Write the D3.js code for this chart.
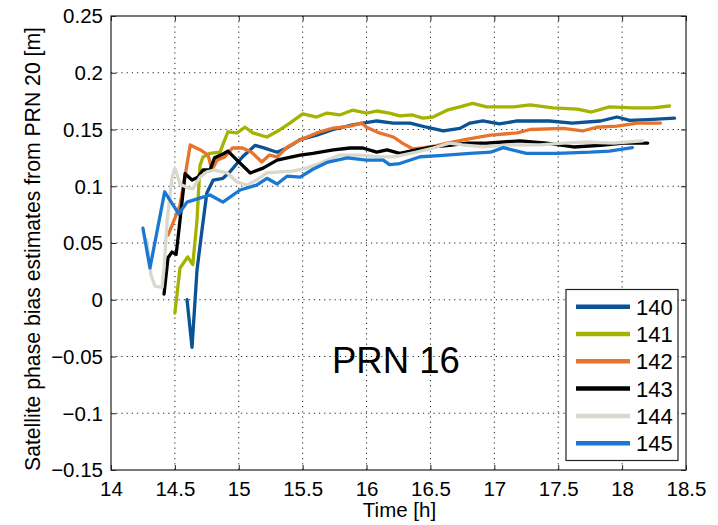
<!DOCTYPE html>
<html><head><meta charset="utf-8">
<script src="https://cdn.jsdelivr.net/npm/d3@7"></script>
<style>
html,body{margin:0;padding:0;background:#fff;}
svg text{font-family:"Liberation Sans",Arial,sans-serif;fill:#000;}
</style></head>
<body><svg id="chart" width="718" height="525"></svg>
<script>
const seriesNames = ["140","141","142","143","144","145"];
const seriesColors = ["#0b5394","#a4b300","#e8732b","#000000","#d8d8cc","#1a78d2"];
const xTicks = [14,14.5,15,15.5,16,16.5,17,17.5,18,18.5];
const yTicks = [-0.15,-0.1,-0.05,0,0.05,0.1,0.15,0.2,0.25];
const xTickLabels = ["14","14.5","15","15.5","16","16.5","17","17.5","18","18.5"];
const yTickLabels = ["\u22120.15","\u22120.1","\u22120.05","0","0.05","0.1","0.15","0.2","0.25"];

const t140 = [14.595,14.634,14.673,14.712,14.75,14.80,14.876,14.93,15.03,15.127,15.19,15.30,15.38,15.48,15.61,15.74,15.89,16.08,16.21,16.34,16.47,16.60,16.73,16.81,16.91,17.04,17.18,17.43,17.61,17.83,17.96,18.06,18.24,18.41];
const v140 = [0.0,-0.042,0.026,0.0615,0.094,0.1055,0.107,0.1126,0.126,0.136,0.134,0.130,0.134,0.141,0.145,0.150,0.154,0.1575,0.1557,0.1557,0.152,0.1487,0.151,0.1557,0.1575,0.155,0.1575,0.1575,0.1557,0.1575,0.161,0.158,0.159,0.160];

const t141 = [14.50,14.54,14.60,14.64,14.673,14.696,14.72,14.775,14.853,14.915,14.986,15.05,15.11,15.22,15.32,15.40,15.50,15.61,15.69,15.79,15.89,16.00,16.08,16.18,16.26,16.36,16.44,16.52,16.63,16.73,16.83,16.94,17.15,17.28,17.46,17.65,17.76,17.90,18.08,18.24,18.37];
const v141 = [-0.0117,0.028,0.0377,0.031,0.070,0.118,0.1258,0.129,0.130,0.148,0.147,0.152,0.147,0.1434,0.1496,0.1557,0.1637,0.161,0.1645,0.1628,0.167,0.1645,0.1663,0.1645,0.162,0.1628,0.160,0.161,0.167,0.170,0.173,0.170,0.170,0.1716,0.169,0.168,0.1654,0.170,0.169,0.169,0.1707];

const t142 = [14.446,14.485,14.54,14.587,14.62,14.70,14.76,14.79,14.83,14.89,14.95,15.03,15.10,15.18,15.24,15.30,15.38,15.48,15.61,15.74,15.87,15.96,16.00,16.10,16.21,16.28,16.36,16.44,16.54,16.63,16.79,16.97,17.18,17.28,17.54,17.69,17.80,17.96,18.12,18.30];
const v142 = [0.057,0.0676,0.0835,0.114,0.1364,0.132,0.1275,0.1143,0.123,0.1258,0.1337,0.1337,0.130,0.1214,0.1275,0.1258,0.1346,0.1407,0.147,0.1513,0.153,0.1557,0.152,0.147,0.1434,0.138,0.133,0.1337,0.1355,0.138,0.1416,0.145,0.147,0.150,0.151,0.1487,0.152,0.153,0.1557,0.1557];

const t143 = [14.415,14.446,14.477,14.51,14.54,14.58,14.634,14.68,14.72,14.775,14.81,14.876,14.915,14.986,15.09,15.19,15.30,15.38,15.48,15.58,15.74,15.87,15.97,16.08,16.16,16.26,16.39,16.52,16.65,16.79,16.94,17.20,17.41,17.62,17.83,18.01,18.20];
const v143 = [0.005,0.037,0.042,0.040,0.070,0.111,0.1055,0.108,0.1143,0.1143,0.125,0.1284,0.131,0.123,0.1117,0.116,0.123,0.125,0.1275,0.129,0.132,0.1337,0.1337,0.130,0.132,0.129,0.132,0.1346,0.136,0.138,0.138,0.140,0.138,0.1346,0.136,0.138,0.138];

const t144 = [14.28,14.313,14.344,14.40,14.415,14.44,14.477,14.50,14.54,14.587,14.64,14.696,14.75,14.81,14.91,14.986,15.06,15.14,15.22,15.32,15.42,15.53,15.64,15.79,15.95,16.10,16.21,16.28,16.39,16.52,16.65,16.75,16.91,17.12,17.36,17.54,17.72,17.93,18.16];
const v144 = [0.0527,0.0218,0.012,0.011,0.028,0.070,0.1073,0.116,0.102,0.0993,0.0976,0.108,0.1126,0.1143,0.1117,0.1038,0.101,0.1055,0.1117,0.1126,0.1134,0.116,0.1205,0.1275,0.1275,0.1258,0.1258,0.1275,0.130,0.1337,0.138,0.1364,0.1346,0.1364,0.1364,0.138,0.139,0.138,0.140];

const t145 = [14.25,14.305,14.42,14.53,14.595,14.70,14.775,14.876,15.01,15.14,15.22,15.30,15.38,15.48,15.58,15.69,15.85,16.00,16.13,16.18,16.26,16.42,16.57,16.81,16.97,17.07,17.25,17.49,17.75,17.90,18.08];
const v145 = [0.063,0.028,0.095,0.0756,0.086,0.0897,0.0923,0.086,0.0967,0.101,0.107,0.102,0.109,0.108,0.115,0.121,0.125,0.123,0.123,0.119,0.120,0.126,0.127,0.129,0.130,0.134,0.129,0.129,0.130,0.131,0.134];

const seriesT = [t140,t141,t142,t143,t144,t145];
const seriesV = [v140,v141,v142,v143,v144,v145];

const svg = d3.select("#chart");
const L=111, T=16, R=686, B=470;
const x = d3.scaleLinear().domain([14,18.5]).range([L,R]);
const y = d3.scaleLinear().domain([-0.15,0.25]).range([B,T]);

// grid
const g = svg.append("g");
xTicks.slice(1,-1).forEach(v=>{
  g.append("line").attr("x1",x(v)).attr("x2",x(v)).attr("y1",T).attr("y2",B)
   .attr("stroke","#222").attr("stroke-width",1).attr("stroke-dasharray","1.2,4");
});
yTicks.slice(1,-1).forEach(v=>{
  g.append("line").attr("x1",L).attr("x2",R).attr("y1",y(v)).attr("y2",y(v))
   .attr("stroke","#222").attr("stroke-width",1).attr("stroke-dasharray","1.2,4");
});

// series
const line = d3.line().x(d=>x(d[0])).y(d=>y(d[1]));
seriesNames.forEach((n,i)=>{
  const pts = seriesT[i].map((t,j)=>[t,seriesV[i][j]]);
  svg.append("path").datum(pts).attr("d",line).attr("fill","none")
    .attr("stroke",seriesColors[i]).attr("stroke-width",3.3)
    .attr("stroke-linejoin","round").attr("stroke-linecap","round");
});

// axes (MATLAB-style ticks inside, on all sides)
const tl = 5;
const axB = svg.append("g").attr("transform",`translate(0,${B})`)
  .call(d3.axisBottom(x).tickValues(xTicks).tickSize(-tl).tickPadding(11).tickFormat((d,i)=>xTickLabels[i]));
const axT = svg.append("g").attr("transform",`translate(0,${T})`)
  .call(d3.axisTop(x).tickValues(xTicks).tickSize(-tl).tickFormat(""));
const axL = svg.append("g").attr("transform",`translate(${L},0)`)
  .call(d3.axisLeft(y).tickValues(yTicks).tickSize(-tl).tickPadding(8).tickFormat((d,i)=>yTickLabels[i]));
const axR = svg.append("g").attr("transform",`translate(${R},0)`)
  .call(d3.axisRight(y).tickValues(yTicks).tickSize(-tl).tickFormat(""));
[axB,axT,axL,axR].forEach(a=>{
  a.selectAll(".domain").remove();
  a.selectAll(".tick line").attr("stroke","#222").attr("stroke-width",1);
  a.selectAll("text").attr("font-size",20.5).attr("font-family","'Liberation Sans',Arial,sans-serif").attr("fill","#000");
});
axB.selectAll("text").attr("dy","0.71em");
axL.selectAll("text").attr("dy","0.34em");

svg.append("rect").attr("x",L).attr("y",T).attr("width",R-L).attr("height",B-T)
  .attr("fill","none").attr("stroke","#222").attr("stroke-width",1.2);

// axis titles
svg.append("text").attr("x",(L+R)/2+1).attr("y",517).attr("text-anchor","middle")
  .attr("font-size",20.5).text("Time [h]");
svg.append("text").attr("transform",`translate(40,249) rotate(-90)`)
  .attr("text-anchor","middle").attr("font-size",21.2)
  .text("Satellite phase bias estimates from PRN 20 [m]");

// annotation
svg.append("text").attr("x",332).attr("y",373).attr("font-size",36.5).text("PRN 16");

// legend
const lg = svg.append("g");
lg.append("rect").attr("x",566).attr("y",289.5).attr("width",112).attr("height",171)
  .attr("fill","#fff").attr("stroke","#222").attr("stroke-width",1.2);
seriesNames.forEach((n,i)=>{
  const yy = 306.7 + i*27.3;
  lg.append("line").attr("x1",576).attr("x2",630).attr("y1",yy).attr("y2",yy)
    .attr("stroke",seriesColors[i]).attr("stroke-width",4.5);
  lg.append("text").attr("x",636).attr("y",yy).attr("dy","0.36em").attr("font-size",22).text(n);
});
</script></body></html>
